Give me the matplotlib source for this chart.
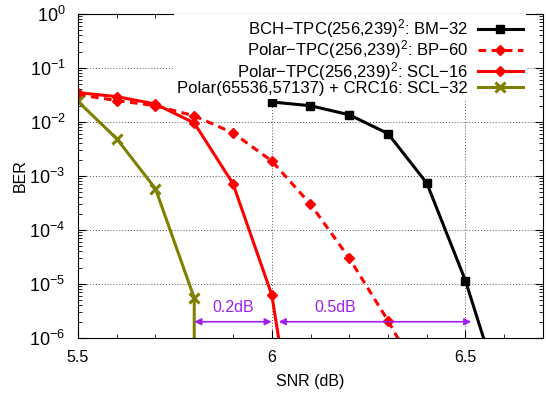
import matplotlib
matplotlib.use("Agg")
import matplotlib.pyplot as plt
from matplotlib.ticker import FixedLocator, LogLocator, MultipleLocator, NullFormatter

plt.rcParams["font.family"] = ["Liberation Sans", "DejaVu Sans"]
plt.rcParams["mathtext.fontset"] = "custom"
plt.rcParams["mathtext.rm"] = "Liberation Sans"
plt.rcParams["mathtext.it"] = "Liberation Sans"

# BER curves
bch_snr = [6.0, 6.1, 6.2, 6.3, 6.4, 6.5, 6.6]
bch_ber = [2.35e-2, 2.0e-2, 1.36e-2, 6.1e-3, 7.4e-4, 1.15e-5, 6e-8]

bp_snr = [5.5, 5.6, 5.7, 5.8, 5.9, 6.0, 6.1, 6.2, 6.3, 6.4]
bp_ber = [3.2e-2, 2.5e-2, 2.0e-2, 1.3e-2, 6.3e-3, 1.9e-3, 3.0e-4, 3.0e-5, 2.1e-6, 1.1e-7]

scl16_snr = [5.5, 5.6, 5.7, 5.8, 5.9, 6.0, 6.1]
scl16_ber = [3.5e-2, 2.95e-2, 2.15e-2, 9.6e-3, 7.2e-4, 6.3e-6, 2e-10]

scl32_snr = [5.5, 5.6, 5.7, 5.8, 5.8]
scl32_ber = [2.4e-2, 4.9e-3, 5.8e-4, 5.5e-6, 1e-10]

labels = [
    "BCH\u2212TPC(256,239)$^2$: BM\u221232",
    "Polar\u2212TPC(256,239)$^2$: BP\u221260",
    "Polar\u2212TPC(256,239)$^2$: SCL\u221216",
    "Polar(65536,57137) + CRC16: SCL\u221232",
]

# gap annotations: (start, end, label x, text)
gaps = [(5.8, 6.0, 5.90, "0.2dB"), (6.018, 6.515, 6.163, "0.5dB")]
gap_ber = 2.0e-6
purple = "#a020f0"

ytick_vals = [1e-6, 1e-5, 1e-4, 1e-3, 1e-2, 1e-1, 1]
ytick_labels = ["10$^{\u22126}$", "10$^{\u22125}$", "10$^{\u22124}$", "10$^{\u22123}$",
                "10$^{\u22122}$", "10$^{\u22121}$", "10$^{0}$"]

fig = plt.figure(figsize=(5.46, 3.94), dpi=100)
ax = fig.add_axes([78 / 546, 1 - 338 / 394, 465 / 546, 324 / 394])

ax.plot(bch_snr, bch_ber, color="black", lw=2.2, marker="s", ms=6, label=labels[0])
ax.plot(bp_snr, bp_ber, color="red", lw=2.2, ls=(0, (2.5, 1.8)), marker="D", ms=5.5, label=labels[1])
ax.plot(scl16_snr, scl16_ber, color="red", lw=2.2, marker="D", ms=5.5, label=labels[2])
ax.plot(scl32_snr, scl32_ber, color="#808000", lw=2.2, marker="x", ms=7, mew=2.2, label=labels[3])

for start, end, xt, text in gaps:
    ax.annotate("", xy=(start, gap_ber), xytext=(end, gap_ber),
                arrowprops=dict(arrowstyle="<|-|>", color=purple, lw=1.2,
                                mutation_scale=10, shrinkA=0, shrinkB=0))
    ax.text(xt, gap_ber * 1.35, text, color=purple, fontsize=11.5, ha="center", va="bottom")

ax.set_yscale("log")
ax.set_xlim(5.5, 6.7)
ax.set_ylim(1e-6, 1)
ax.xaxis.set_major_locator(FixedLocator([5.5, 6, 6.5]))
ax.xaxis.set_minor_locator(MultipleLocator(0.1))
ax.set_xticklabels(["5.5", "6", "6.5"])
ax.set_yticks(ytick_vals)
ax.set_yticklabels(ytick_labels)
ax.yaxis.set_minor_locator(LogLocator(base=10, subs=range(2, 10), numticks=10))
ax.yaxis.set_minor_formatter(NullFormatter())
ax.tick_params(which="both", direction="in", top=True, right=True, labelsize=11.5)
ax.tick_params(which="major", length=6)
ax.tick_params(which="minor", length=3)
ax.tick_params(axis="x", pad=9)
ax.tick_params(axis="y", labelsize=13, pad=9)
ax.grid(True, which="major", ls=(0, (1, 2)), color="#555555", lw=0.7)

ax.set_xlabel("SNR (dB)", fontsize=11.5, labelpad=6)
ax.set_ylabel("BER", fontsize=11.5, labelpad=1)

leg = ax.legend(loc="upper right", bbox_to_anchor=(0.964, 1.0), markerfirst=False,
                fontsize=12, frameon=True, framealpha=1, edgecolor="white", fancybox=False,
                handlelength=2.7, borderaxespad=0, borderpad=0.2, labelspacing=-0.1,
                handletextpad=0.6)
leg.get_frame().set_linewidth(0)
for t in leg.get_texts():
    t.set_ha("right")
leg._legend_box.align = "right"

fig.savefig("out.png", dpi=100)
